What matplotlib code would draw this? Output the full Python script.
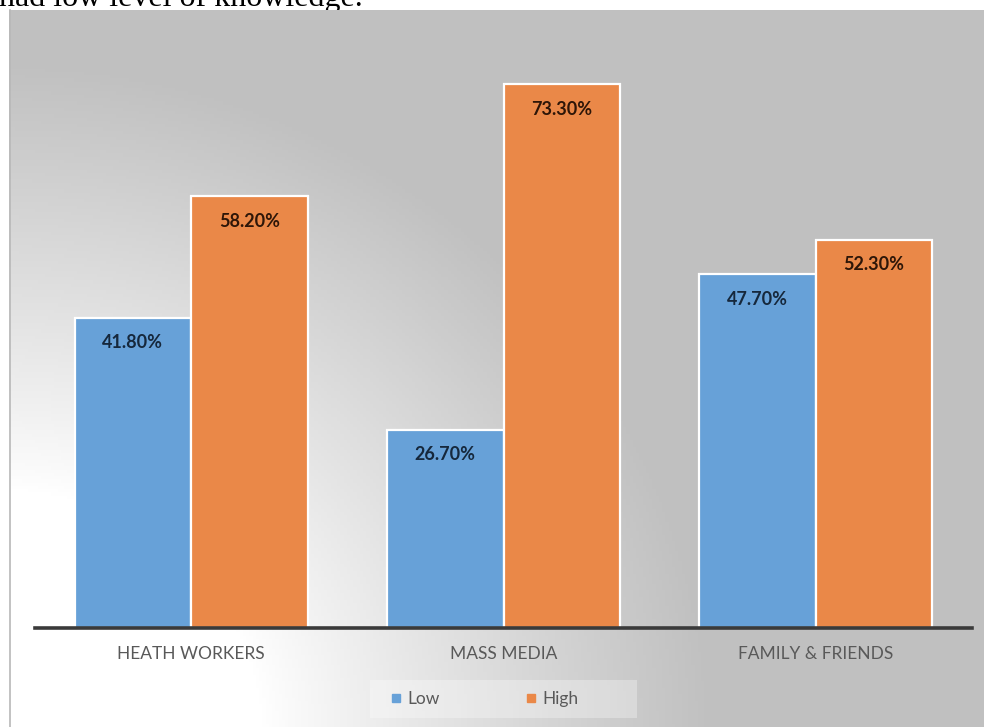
import numpy as np
import matplotlib
matplotlib.use("Agg")
import matplotlib.pyplot as plt
from matplotlib.lines import Line2D
from matplotlib.patches import Rectangle

# ---- data ----
categories = ["HEATH WORKERS", "MASS MEDIA", "FAMILY & FRIENDS"]
low_values = [41.8, 26.7, 47.7]
high_values = [58.2, 73.3, 52.3]
series_names = ["Low", "High"]
caption = "had low level of knowledge."

W, H = 984, 727
fig = plt.figure(figsize=(W / 100, H / 100), dpi=100)
fig.patch.set_facecolor("white")

def fx(px):
    return px / W

def fy(py):
    return 1 - py / H

# cropped caption text at top (cut off in the reference as well)
fig.text(fx(-1), fy(6), caption, family="Liberation Serif", fontsize=23,
         color="black", va="baseline", ha="left", zorder=0)

# gradient background panel
bx0, by0, bx1, by1 = 9, 10, 984, 727
bg = fig.add_axes([fx(bx0), fy(by1), fx(bx1 - bx0), (by1 - by0) / H], zorder=1)
nx, ny = 300, 220
xs = np.linspace(bx0, bx1, nx)
ys = np.linspace(by0, by1, ny)
X, Y = np.meshgrid(xs, ys)
r = np.sqrt(((X - 0) / 1.05) ** 2 + (Y - 740) ** 2)
t = np.clip((r - 250) / 430, 0, 1)
t = t ** 0.9
val = 255 - (255 - 192) * t
img = np.dstack([val, val, val]) / 255.0
bg.imshow(img, aspect="auto", extent=[0, 1, 0, 1], origin="upper")
bg.set_axis_off()
fig.add_artist(Line2D([fx(bx0 + 0.5), fx(bx0 + 0.5)], [fy(by0), fy(by1)],
                      color="#b8b8b8", lw=1.2, zorder=2))

# main axes
ax_left, ax_right, ax_bottom, ax_top = 35, 972, 628, 20
px_per_unit = 7.42
ax = fig.add_axes([fx(ax_left), fy(ax_bottom), fx(ax_right - ax_left),
                   (ax_bottom - ax_top) / H], zorder=3)
ax.patch.set_alpha(0)
ax.set_xlim(-0.5, 2.5)
ax.set_ylim(0, (ax_bottom - ax_top) / px_per_unit)

x = np.arange(len(categories))
bw = 0.373
blue = "#67a1d8"
orange = "#ea8848"
b1 = ax.bar(x - bw / 2, low_values, bw, color=blue, edgecolor="white",
            linewidth=1.6, zorder=3)
b2 = ax.bar(x + bw / 2, high_values, bw, color=orange, edgecolor="white",
            linewidth=1.6, zorder=3)

for bars, vals, tc in [(b1, low_values, "#16283c"), (b2, high_values, "#2e1608")]:
    for rect, v in zip(bars, vals):
        ax.annotate(f"{v:.2f}%", (rect.get_x() + rect.get_width() / 2, v),
                    xytext=(0, -25), textcoords="offset pixels",
                    ha="center", va="center", fontsize=13,
                    fontweight="bold", family="Lato", color=tc, zorder=5)

for s in ["top", "right", "left"]:
    ax.spines[s].set_visible(False)
ax.spines["bottom"].set_color("#3a3a3a")
ax.spines["bottom"].set_linewidth(2.6)
ax.spines["bottom"].set_zorder(6)
ax.set_yticks([])
ax.set_xticks(x)
ax.set_xticklabels(categories, family="Lato", fontsize=12.5, color="#595959")
ax.tick_params(axis="x", length=0, pad=13)

# legend background box
fig.add_artist(Rectangle((fx(370), fy(718)), fx(637 - 370), (718 - 680) / H,
                         transform=fig.transFigure, facecolor="white",
                         alpha=0.3, edgecolor="none", zorder=6))
handles = [Line2D([], [], marker="s", linestyle="none", markersize=6,
                  markerfacecolor=c, markeredgecolor=c) for c in (blue, orange)]
leg = fig.legend(handles, series_names, loc="center left",
                 bbox_to_anchor=(fx(390), fy(699)), ncol=2,
                 prop={"family": "Lato", "size": 12.5},
                 frameon=False, handlelength=0.7,
                 handletextpad=0.3, columnspacing=4.9,
                 borderpad=0.0, borderaxespad=0)
leg.set_zorder(7)
for txt in leg.get_texts():
    txt.set_color("#595959")

fig.savefig("out.png", dpi=100)
